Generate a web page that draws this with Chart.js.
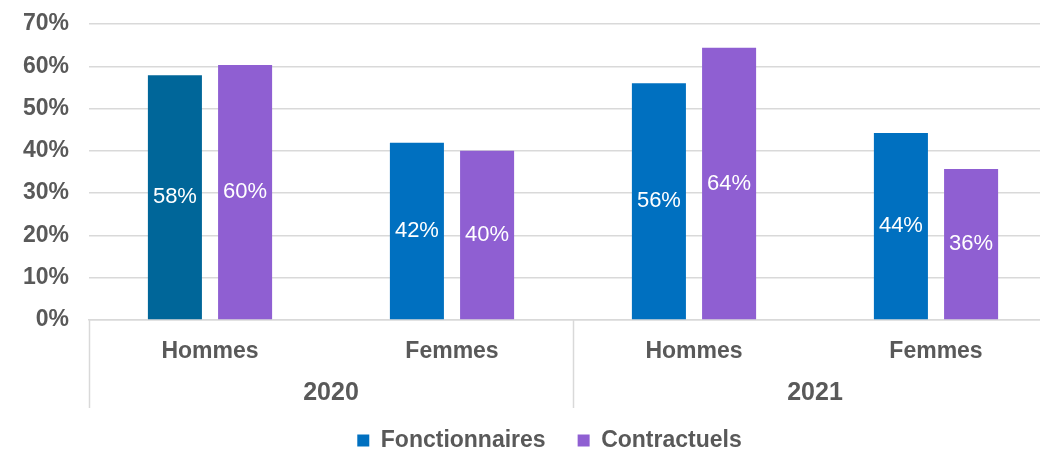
<!DOCTYPE html>
<html>
<head>
<meta charset="utf-8">
<script src="https://cdn.jsdelivr.net/npm/chart.js@4/dist/chart.umd.min.js"></script>
<style>
html,body{margin:0;padding:0;background:#fff;overflow:hidden;}
#wrap{width:1040px;height:453px;position:relative;overflow:hidden;}
canvas{display:block;}
</style>
</head>
<body>
<div id="wrap"><canvas id="c" width="1057" height="453"></canvas></div>
<script>
const categories = ['Hommes', 'Femmes', 'Hommes', 'Femmes'];
const years = ['2020', '2021'];
const yearOfCategory = [0, 0, 1, 1];
const fonctionnaires = [57.9, 41.9, 56.0, 44.2];
const contractuels = [60.3, 40.0, 64.4, 35.7];
const yTicks = [0, 10, 20, 30, 40, 50, 60, 70];

const FONT = '"Liberation Sans", Arial, sans-serif';
const GREY = '#595959';
const GRID = '#d9d9d9';
const BLUE = '#0070C0';
const BLUE_DARK = '#006699';
const PURPLE = '#8F5FD2';

const valueLabels = {
  id: 'valueLabels',
  afterDatasetsDraw(chart) {
    const ctx = chart.ctx;
    ctx.save();
    ctx.fillStyle = '#ffffff';
    ctx.font = '22px ' + FONT;
    ctx.textAlign = 'center';
    ctx.textBaseline = 'middle';
    chart.data.datasets.forEach((ds, di) => {
      const meta = chart.getDatasetMeta(di);
      meta.data.forEach((bar, i) => {
        const y = (bar.y + bar.base) / 2;
        ctx.fillText(Math.round(ds.data[i]) + '%', bar.x, y);
      });
    });
    ctx.restore();
  }
};

const groupAxis = {
  id: 'groupAxis',
  afterDraw(chart) {
    const ctx = chart.ctx;
    const xs = chart.scales.x;
    const top = chart.chartArea.bottom;
    const bottom = top + 88;
    const bounds = [xs.left];
    for (let i = 1; i < categories.length; i++) {
      if (yearOfCategory[i] !== yearOfCategory[i - 1]) {
        bounds.push((xs.getPixelForValue(i - 1) + xs.getPixelForValue(i)) / 2);
      }
    }
    bounds.push(xs.right);
    ctx.save();
    ctx.strokeStyle = GRID;
    ctx.lineWidth = 1.5;
    bounds.forEach(b => {
      const x = Math.round(b) + 0.5;
      ctx.beginPath();
      ctx.moveTo(x, top);
      ctx.lineTo(x, bottom);
      ctx.stroke();
    });
    ctx.fillStyle = GREY;
    ctx.font = 'bold 25px ' + FONT;
    ctx.textAlign = 'center';
    ctx.textBaseline = 'middle';
    years.forEach((yr, k) => {
      ctx.fillText(yr, (bounds[k] + bounds[k + 1]) / 2, top + 73);
    });
    ctx.restore();
  }
};

const legendShift = {
  id: 'legendShift',
  afterLayout(chart) {
    if (chart.legend) {
      chart.legend.left += 21;
      chart.legend.right += 21;
    }
  }
};

new Chart(document.getElementById('c'), {
  type: 'bar',
  data: {
    labels: categories,
    datasets: [
      {
        label: 'Fonctionnaires',
        data: fonctionnaires,
        backgroundColor: (c) => (c.dataIndex === 0 ? BLUE_DARK : BLUE),
        barPercentage: 0.77,
        categoryPercentage: 0.58
      },
      {
        label: 'Contractuels',
        data: contractuels,
        backgroundColor: PURPLE,
        barPercentage: 0.77,
        categoryPercentage: 0.58
      }
    ]
  },
  options: {
    responsive: false,
    animation: false,
    devicePixelRatio: 1,
    layout: { padding: { top: 24, right: 0, left: 0, bottom: 0 } },
    scales: {
      x: {
        grid: { display: false },
        border: { display: true, color: GRID, width: 1.5 },
        ticks: { color: GREY, font: { family: FONT, size: 23, weight: 'bold' }, padding: 10 },
        afterFit(s) { s.height = 77; s.paddingLeft = 0; s.paddingRight = 0; }
      },
      y: {
        min: 0, max: 70,
        afterBuildTicks(s) { s.ticks = yTicks.map(v => ({ value: v })); },
        grid: { color: GRID, lineWidth: 1.5, drawTicks: false },
        border: { display: false },
        ticks: {
          color: GREY,
          font: { family: FONT, size: 23, weight: 'bold' },
          padding: 20,
          callback: v => v + '%'
        },
        afterFit(s) { s.width = 89; s.paddingTop = 0; s.paddingBottom = 0; }
      }
    },
    plugins: {
      legend: {
        position: 'bottom',
        maxHeight: 56,
        labels: {
          color: GREY,
          font: { family: FONT, size: 23, weight: 'bold' },
          boxWidth: 12,
          boxHeight: 12,
          padding: 32,
          generateLabels(chart) {
            return chart.data.datasets.map((ds, i) => ({
              text: ds.label,
              fillStyle: i === 0 ? BLUE : PURPLE,
              strokeStyle: i === 0 ? BLUE : PURPLE,
              lineWidth: 0,
              hidden: false,
              datasetIndex: i,
              fontColor: GREY
            }));
          }
        }
      },
      tooltip: { enabled: false }
    }
  },
  plugins: [valueLabels, groupAxis, legendShift]
});
</script>
</body>
</html>
